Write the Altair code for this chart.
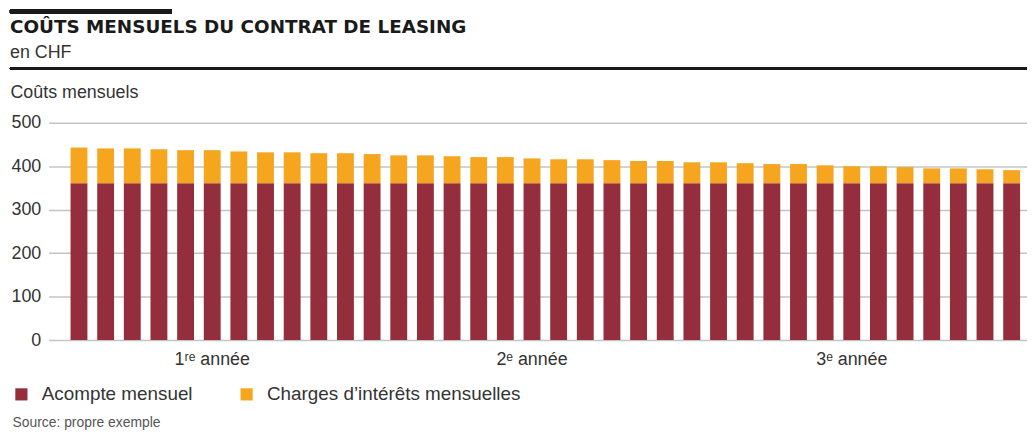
import altair as alt
import pandas as pd

months = list(range(1, 37))
acompte = [361, 361, 361, 361, 361, 361, 361, 361, 361, 361, 361, 361,
           361, 361, 361, 361, 361, 361, 361, 361, 361, 361, 361, 361,
           361, 361, 361, 361, 361, 361, 361, 361, 361, 361, 361, 361]
interets = [82, 80, 80, 78, 76, 76, 73, 71, 71, 69, 69, 67,
            64, 64, 62, 60, 60, 57, 55, 55, 53, 51, 51, 48,
            48, 46, 44, 44, 41, 39, 39, 37, 34, 34, 32, 30]
series_names = ["Acompte mensuel", "Charges d’intérêts mensuelles"]
series_colors = ["#942e3d", "#f6a61e"]
year_ticks = [6, 18, 30]
year_labels = ["1ʳᵉ année", "2ᵉ année", "3ᵉ année"]
y_ticks = [0, 100, 200, 300, 400, 500]
title_text = "COÛTS MENSUELS DU CONTRAT DE LEASING"
subtitle_text = "en CHF"

rows = []
for i, m in enumerate(months):
    rows.append({"mois": m, "serie": series_names[0], "valeur": acompte[i], "ordre": 0})
    rows.append({"mois": m, "serie": series_names[1], "valeur": interets[i], "ordre": 1})
df = pd.DataFrame(rows)

label_expr = " : ".join(
    f"datum.value == {t} ? '{l}'" for t, l in zip(year_ticks, year_labels)
) + " : ''"

FONT = "Liberation Sans"
TXT = "#333333"

bars = alt.Chart(df).mark_bar().encode(
    x=alt.X(
        "mois:O",
        scale=alt.Scale(paddingInner=0.367, paddingOuter=0.54, align=0.76),
        axis=alt.Axis(
            values=year_ticks, labelExpr=label_expr, labelAngle=0, ticks=False,
            domain=False, grid=False, labelFontSize=18, labelPadding=11,
            labelColor=TXT, labelFont=FONT,
            title="Source: propre exemple", titleX=-37, titleY=87,
            titleAlign="left", titleAnchor="start", titleBaseline="alphabetic",
            titleFontSize=14, titleFontWeight="normal", titleColor="#555555",
            titleFont=FONT,
        ),
    ),
    y=alt.Y(
        "valeur:Q", stack="zero", scale=alt.Scale(domain=[0, 500]),
        axis=alt.Axis(
            values=y_ticks, ticks=False, domain=False, gridColor="#c4c4c4",
            gridWidth=1.5, labelFontSize=18, labelPadding=8, labelColor=TXT,
            labelFont=FONT,
            title="Coûts mensuels", titleAngle=0, titleX=-39, titleY=-25,
            titleAlign="left", titleBaseline="alphabetic", titleFontSize=18,
            titleFontWeight="normal", titleColor=TXT, titleFont=FONT,
        ),
    ),
    color=alt.Color(
        "serie:N",
        scale=alt.Scale(domain=series_names, range=series_colors),
        title=None,
        legend=alt.Legend(
            orient="none", legendX=-37, legendY=264, direction="horizontal",
            symbolType="square", symbolSize=150, symbolStrokeWidth=0,
            labelFontSize=19, labelFont=FONT, labelColor=TXT, labelOffset=11,
            columnPadding=44, labelLimit=400,
        ),
    ),
    order=alt.Order("ordre:Q"),
)

top_bar = alt.Chart(df).mark_rule(color="#1a1a1a", strokeWidth=3.5).encode(
    x=alt.value(-39), x2=alt.value(124), y=alt.value(-112.25)
)
head_line = alt.Chart(df).mark_rule(color="#1a1a1a", strokeWidth=2).encode(
    x=alt.value(-39), x2=alt.value(986), y=alt.value(-55)
)
title_mark = alt.Chart(pd.DataFrame({"t": [title_text]})).mark_text(
    font="DejaVu Sans", fontSize=18.5, fontWeight="bold", color="#1a1a1a",
    align="left", baseline="alphabetic",
).encode(text="t:N", x=alt.value(-39), y=alt.value(-90))
subtitle_mark = alt.Chart(pd.DataFrame({"t": [subtitle_text]})).mark_text(
    font=FONT, fontSize=18, color=TXT, align="left", baseline="alphabetic",
).encode(text="t:N", x=alt.value(-39), y=alt.value(-65))

chart = alt.layer(bars, top_bar, head_line, title_mark, subtitle_mark).properties(
    width=986,
    height=219,
    autosize=alt.AutoSizeParams(type="none"),
    padding={"left": 41, "top": 114, "right": 0, "bottom": 92},
).configure_view(stroke=None)

chart.save("out.html", embed_options={"renderer": "svg", "actions": False})
